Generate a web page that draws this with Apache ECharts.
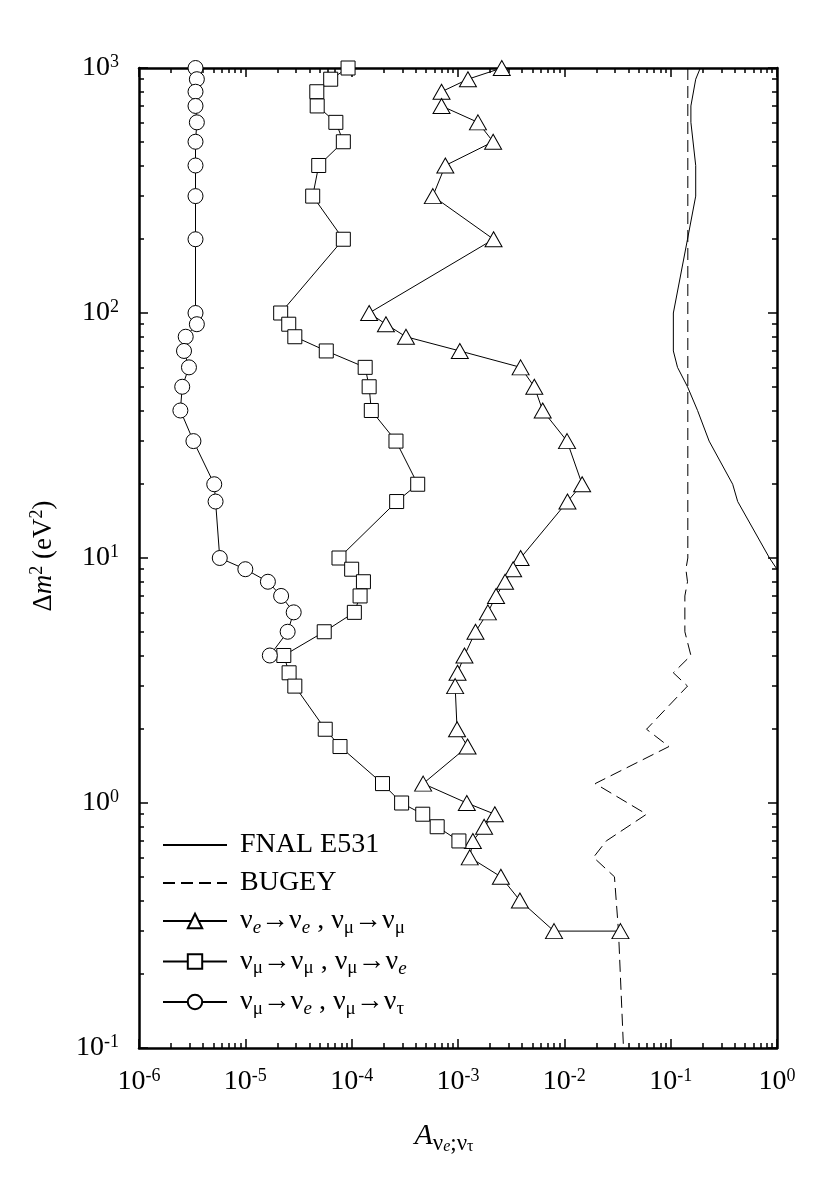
<!DOCTYPE html>
<html>
<head>
<meta charset="utf-8">
<script src="https://cdn.jsdelivr.net/npm/echarts@6/dist/echarts.min.js"></script>
<style>
  html, body { margin: 0; padding: 0; background: #fff; }
  #chart { width: 840px; height: 1196px; }
</style>
</head>
<body>
<div id="chart"></div>
<script>
// Δm² values (eV²) and amplitude limits for each curve
const triDm2 = [1000, 900, 800, 700, 600, 500, 400, 300, 200, 100, 90, 80, 70, 60, 50, 40, 30, 20, 17, 10,
  9, 8, 7, 6, 5, 4, 3.4, 3, 2, 1.7, 1.2, 1, 0.9, 0.8, 0.7, 0.6, 0.5, 0.4, 0.3, 0.3];
const triA = [2.58e-3, 1.24e-3, 7.0e-4, 7.0e-4, 1.54e-3, 2.14e-3, 7.6e-4, 5.8e-4, 2.16e-3, 1.46e-4,
  2.1e-4, 3.24e-4, 1.04e-3, 3.88e-3, 5.22e-3, 6.26e-3, 1.06e-2, 1.47e-2, 1.07e-2, 3.88e-3,
  3.3e-3, 2.77e-3, 2.28e-3, 1.91e-3, 1.46e-3, 1.15e-3, 9.9e-4, 9.4e-4, 9.8e-4, 1.23e-3,
  4.7e-4, 1.21e-3, 2.22e-3, 1.76e-3, 1.38e-3, 1.29e-3, 2.53e-3, 3.82e-3, 8.0e-3, 3.37e-2];

const sqDm2 = [1000, 900, 800, 700, 600, 500, 400, 300, 200, 100, 90, 80, 70, 60, 50, 40, 30, 20, 17, 10,
  9, 8, 7, 6, 5, 4, 3.4, 3, 2, 1.7, 1.2, 1, 0.9, 0.8, 0.7];
const sqA = [9.25e-5, 6.35e-5, 4.7e-5, 4.74e-5, 7.1e-5, 8.35e-5, 4.9e-5, 4.3e-5, 8.35e-5, 2.15e-5,
  2.56e-5, 2.92e-5, 5.77e-5, 1.34e-4, 1.46e-4, 1.53e-4, 2.61e-4, 4.18e-4, 2.65e-4, 7.6e-5,
  1.0e-4, 1.29e-4, 1.2e-4, 1.06e-4, 5.52e-5, 2.3e-5, 2.58e-5, 2.92e-5, 5.64e-5, 7.77e-5,
  1.95e-4, 2.95e-4, 4.66e-4, 6.37e-4, 1.02e-3];

const cirDm2 = [1000, 900, 800, 700, 600, 500, 400, 300, 200, 100, 90, 80, 70, 60, 50, 40, 30, 20, 17, 10,
  9, 8, 7, 6, 5, 4];
const cirA = [3.4e-6, 3.5e-6, 3.4e-6, 3.4e-6, 3.5e-6, 3.4e-6, 3.4e-6, 3.4e-6, 3.4e-6, 3.4e-6,
  3.5e-6, 2.75e-6, 2.65e-6, 2.95e-6, 2.55e-6, 2.45e-6, 3.25e-6, 5.1e-6, 5.25e-6, 5.75e-6,
  1.0e-5, 1.63e-5, 2.17e-5, 2.85e-5, 2.5e-5, 1.7e-5];

const fnalDm2 = [1000, 900, 700, 600, 400, 300, 200, 100, 70, 60, 50, 40, 30, 20, 17, 10, 9];
const fnalA = [0.19, 0.172, 0.155, 0.155, 0.172, 0.172, 0.144, 0.106, 0.106, 0.116, 0.144, 0.179, 0.23,
  0.383, 0.427, 0.85, 1.0];

const bugeyDm2 = [1000, 10, 9, 8, 7, 5, 4, 3.4, 3, 2, 1.7, 1.2, 0.9, 0.7, 0.6, 0.5, 0.3, 0.1];
const bugeyA = [0.145, 0.145, 0.139, 0.144, 0.136, 0.136, 0.155, 0.106, 0.144, 0.0593, 0.0964, 0.0195,
  0.0593, 0.0248, 0.0188, 0.0296, 0.0323, 0.036];

// axis ticks
const xDecades = [1e-6, 1e-5, 1e-4, 1e-3, 1e-2, 1e-1, 1];
const yDecades = [0.1, 1, 10, 100, 1000];

const FONT = "'Liberation Serif', 'Times New Roman', serif";

function minorTicks(decades) {
  const out = [];
  for (let i = 0; i < decades.length - 1; i++) {
    for (let k = 2; k <= 9; k++) out.push(+(decades[i] * k).toPrecision(3));
  }
  return out;
}

function pairs(xs, ys) {
  return xs.map((x, i) => [x, ys[i]]);
}

const labelRich = {
  b: { fontFamily: FONT, fontSize: 28, lineHeight: 30, color: '#000' },
  p: { fontFamily: FONT, fontSize: 18, lineHeight: 18, verticalAlign: 'top', color: '#000' },
};

function powLabel(v) {
  const e = Math.round(Math.log10(v));
  return '{b|10}{p|' + e + '}';
}

function makeAxes(dir, decades) {
  const isX = dir === 'x';
  const lo = decades[0], hi = decades[decades.length - 1];
  const pos = isX ? ['bottom', 'top'] : ['left', 'right'];
  const axes = [];
  pos.forEach((p, j) => {
    // decade ticks (and labels on the main side)
    axes.push({
      type: 'log', logBase: 10, min: lo, max: hi, position: p,
      axisLine: { show: true, lineStyle: { color: '#000', width: 2.5 } },
      axisTick: { show: true, inside: true, length: 9, customValues: decades, lineStyle: { color: '#000', width: 1.5 } },
      axisLabel: {
        show: j === 0, customValues: decades, formatter: powLabel, rich: labelRich,
        margin: isX ? 19 : 20,
      },
      splitLine: { show: false },
    });
    // minor ticks
    axes.push({
      type: 'log', logBase: 10, min: lo, max: hi, position: p,
      axisLine: { show: false },
      axisTick: { show: true, inside: true, length: 5, customValues: minorTicks(decades), lineStyle: { color: '#000', width: 1.5 } },
      axisLabel: { show: false },
      splitLine: { show: false },
    });
  });
  return axes;
}

const legendText = {
  'FNAL E531': '{g|}{n|FNAL E531}',
  'BUGEY': '{g|}{n|BUGEY}',
  'νe→νe , νμ→νμ': '{g|}{n|ν}{ie|e}{n|→ν}{ie|e}{n| , ν}{s|μ}{n|→ν}{s|μ}',
  'νμ→νμ , νμ→νe': '{g|}{n|ν}{s|μ}{n|→ν}{s|μ}{n| , ν}{s|μ}{n|→ν}{ie|e}',
  'νμ→νe , νμ→ντ': '{g|}{n|ν}{s|μ}{n|→ν}{ie|e}{n| , ν}{s|μ}{n|→ν}{s|τ}',
};

const chart = echarts.init(document.getElementById('chart'));

const markerStyle = { color: '#fff', borderColor: '#000', borderWidth: 1 };
const thinLine = { color: '#000', width: 1 };

chart.setOption({
  animation: false,
  backgroundColor: '#fff',
  grid: { left: 139, right: 63, top: 68, bottom: 148 },
  xAxis: makeAxes('x', xDecades),
  yAxis: makeAxes('y', yDecades),
  legend: {
    orient: 'vertical', left: 157, top: 826,
    itemWidth: 64, itemHeight: 18, itemGap: 10,
    data: [
      { name: 'FNAL E531', itemStyle: { opacity: 0 } },
      { name: 'BUGEY', itemStyle: { opacity: 0 } },
      'νe→νe , νμ→νμ', 'νμ→νμ , νμ→νe', 'νμ→νe , νμ→ντ',
    ],
    formatter: (name) => legendText[name],
    textStyle: {
      rich: {
        g: { width: 8 },
        n: { fontFamily: FONT, fontSize: 28, lineHeight: 33, color: '#000' },
        s: { fontFamily: FONT, fontSize: 19, lineHeight: 19, verticalAlign: 'bottom', color: '#000' },
        ie: { fontFamily: FONT, fontSize: 19, lineHeight: 19, verticalAlign: 'bottom', fontStyle: 'italic', color: '#000' },
      },
    },
  },
  graphic: [
    {
      type: 'text', x: 44, y: 556, rotation: Math.PI / 2,
      style: {
        text: '{d|Δ}{i|m}{p|2}{d| (eV}{p|2}{d|)}',
        align: 'center', verticalAlign: 'middle',
        rich: {
          d: { fontFamily: FONT, fontSize: 27, lineHeight: 32, fill: '#000' },
          i: { fontFamily: FONT, fontSize: 27, lineHeight: 32, fontStyle: 'italic', fill: '#000' },
          p: { fontFamily: FONT, fontSize: 18, lineHeight: 18, verticalAlign: 'top', fill: '#000' },
        },
      },
    },
    {
      type: 'text', x: 444, y: 1138,
      style: {
        text: '{a|A}{v|ν}{e|e}{v|;ν}{t|τ}',
        align: 'center', verticalAlign: 'middle',
        rich: {
          a: { fontFamily: FONT, fontSize: 30, lineHeight: 30, fontStyle: 'italic', verticalAlign: 'top', fill: '#000' },
          v: { fontFamily: FONT, fontSize: 23, lineHeight: 34, verticalAlign: 'bottom', fill: '#000' },
          e: { fontFamily: FONT, fontSize: 16, lineHeight: 16, fontStyle: 'italic', verticalAlign: 'bottom', fill: '#000' },
          t: { fontFamily: FONT, fontSize: 16, lineHeight: 16, verticalAlign: 'bottom', fill: '#000' },
        },
      },
    },
  ],
  series: [
    {
      name: 'FNAL E531', type: 'line', data: pairs(fnalA, fnalDm2),
      showSymbol: false, symbol: 'none', lineStyle: thinLine, clip: true,
    },
    {
      name: 'BUGEY', type: 'line', data: pairs(bugeyA, bugeyDm2),
      showSymbol: false, symbol: 'none', lineStyle: { color: '#000', width: 1, type: [12, 6] }, clip: true,
    },
    {
      name: 'νe→νe , νμ→νμ', type: 'line', data: pairs(triA, triDm2),
      symbol: 'triangle', symbolSize: [17, 15], itemStyle: markerStyle, lineStyle: thinLine, clip: false,
    },
    {
      name: 'νμ→νμ , νμ→νe', type: 'line', data: pairs(sqA, sqDm2),
      symbol: 'rect', symbolSize: 14, itemStyle: markerStyle, lineStyle: thinLine, clip: false,
    },
    {
      name: 'νμ→νe , νμ→ντ', type: 'line', data: pairs(cirA, cirDm2),
      symbol: 'circle', symbolSize: 15, itemStyle: markerStyle, lineStyle: thinLine, clip: false,
    },
  ],
});
</script>
</body>
</html>
